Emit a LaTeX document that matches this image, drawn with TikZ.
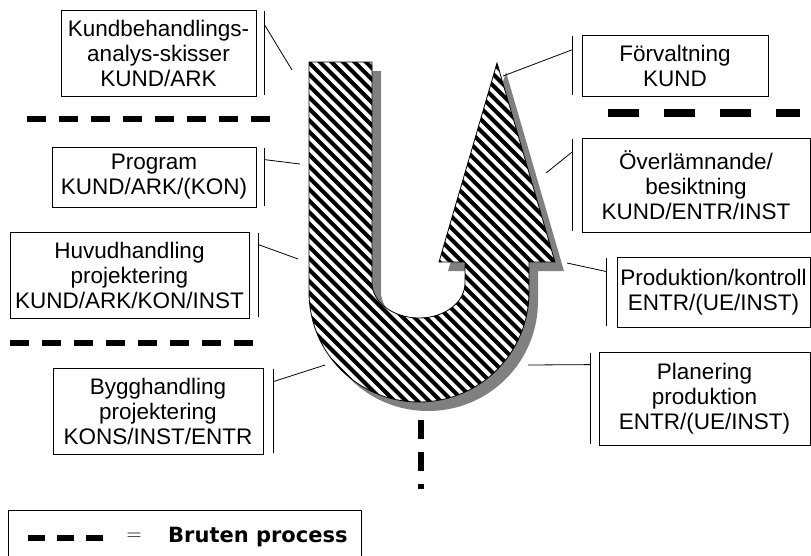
\documentclass[tikz,border=0pt]{standalone}
\usepackage{fontspec}
\setmainfont{Liberation Sans}
\newfontfamily\legendfont{DejaVu Sans}
\tikzset{
  phasebox/.style={draw,line width=0.8pt,align=center,inner sep=0pt,
    font=\fontsize{22.5}{25}\selectfont},
  accentbar/.style={line width=0.8pt},
  leader/.style={line width=0.8pt},
  breakline/.style={line width=5.5pt,dash pattern=on 19pt off 13pt},
}
\newcommand{\upath}{(309,62) -- (372,62) -- (372,283)
  .. controls (372,302) and (393,318) .. (419,318)
  .. controls (445,318) and (465,302) .. (465,283)
  -- (465,262) -- (439,262) -- (497,63) -- (555,262) -- (529,262) -- (529,292)
  .. controls (529,353) and (480,402) .. (419,402)
  .. controls (358,402) and (309,353) .. (309,292) -- cycle}
\begin{document}
\begin{tikzpicture}[x=1pt,y=-1pt]
\useasboundingbox (0,0) rectangle (811,555);
\fill[gray,shift={(9,9)}] \upath;
\begin{scope}
  \clip \upath;
  \fill[white] \upath;
  \foreach \c in {-110,-98.5,...,520}
    \draw[line width=4pt] (\c,0) -- ++(450,450);
\end{scope}
\draw[line width=0.8pt] \upath;

\node[phasebox,minimum width=195,minimum height=86] (kund) at (158.5,53)
  {Kundbehandlings-\\analys-skisser\\KUND/ARK};
\node[phasebox,minimum width=204,minimum height=60] (prog) at (154,177)
  {Program\\KUND/ARK/(KON)};
\node[phasebox,minimum width=239,minimum height=86] (huvud) at (129.5,275)
  {Huvudhandling\\projektering\\KUND/ARK/KON/INST};
\node[phasebox,minimum width=210,minimum height=86] (bygg) at (158,411)
  {Bygghandling\\projektering\\KONS/INST/ENTR};
\node[phasebox,minimum width=186,minimum height=61] (forv) at (675,65.5)
  {Förvaltning\\KUND};
\node[phasebox,minimum width=228,minimum height=94] (overl) at (696,185)
  {Överlämnande/\\besiktning\\KUND/ENTR/INST};
\node[phasebox,minimum width=193,minimum height=70] (prod) at (713.5,292)
  {Produktion/kontroll\\ENTR/(UE/INST)};
\node[phasebox,minimum width=211,minimum height=93] (plan) at (704.5,398.5)
  {Planering\\produktion\\ENTR/(UE/INST)};

\coordinate (kund-u) at (292,70);
\coordinate (prog-u) at (300,164);
\coordinate (huvud-u) at (298,259);
\coordinate (bygg-u) at (325,365);
\coordinate (forv-u) at (503,76);
\coordinate (overl-u) at (546,173);
\coordinate (prod-u) at (567,263);
\coordinate (plan-u) at (528,365);

\foreach \n/\d/\h in {kund/8/15,prog/8/13,huvud/9/13,bygg/10/14}{
  \draw[accentbar] ([shift={(\d,1)}]\n.north east) -- ([shift={(\d,-1)}]\n.south east);
  \draw[leader] ([shift={(\d,\h)}]\n.north east) -- (\n-u);
}
\foreach \n/\d/\h in {forv/9/15,overl/9/14,prod/10/15,plan/8/13}{
  \draw[accentbar] ([shift={(-\d,1)}]\n.north west) -- ([shift={(-\d,-1)}]\n.south west);
  \draw[leader] ([shift={(-\d,\h)}]\n.north west) -- (\n-u);
}

\draw[breakline] (27,119) -- (270,119);
\draw[breakline] (10,343) -- (253,343);
\draw[line width=8pt,dash pattern=on 31pt off 25pt] (608,113) -- (800,113);
\draw[line width=6pt,dash pattern=on 19pt off 13pt] (421,420) -- (421,489);

\node[draw,line width=0.8pt,minimum width=353,minimum height=60,anchor=north west]
  (legend) at (8,510) {};
\draw[line width=6pt,dash pattern=on 17pt off 12pt] (28,538) -- (103,538);
\node[font=\fontsize{21.5}{24}\selectfont] (eq) at (134,537) {$=$};
\node[anchor=base west,inner sep=0pt,font=\legendfont\bfseries\fontsize{21}{24}\selectfont]
  (bruten) at (168,542) {Bruten process};
\end{tikzpicture}
\end{document}
